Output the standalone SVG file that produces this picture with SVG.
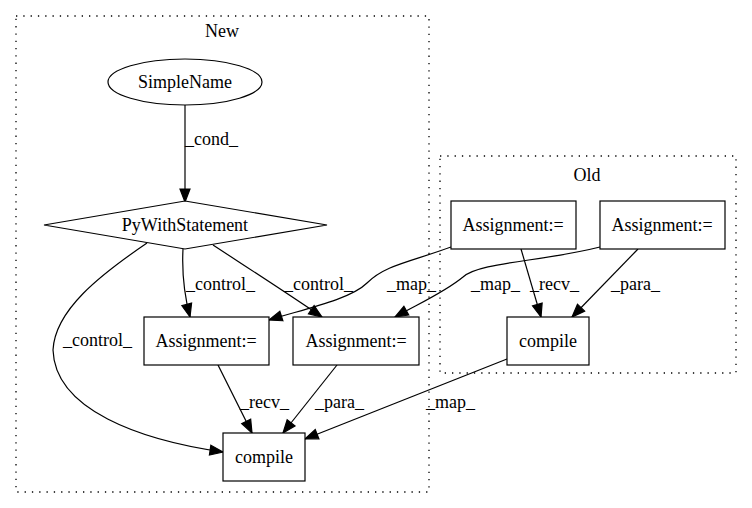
<svg xmlns="http://www.w3.org/2000/svg" width="752" height="508" viewBox="0 0 752 508">
<defs>
<marker id="ah" markerWidth="14" markerHeight="11" refX="13" refY="5" orient="auto" markerUnits="userSpaceOnUse" overflow="visible">
<path d="M0,0 L13,5 L0,10 z" fill="#000" stroke="#000" stroke-width="1.2"/>
</marker>
<style>
.t { font-family: "Liberation Serif", "Times New Roman", "DejaVu Serif", serif; font-size: 18px; fill: #000; }
.c { text-anchor: middle; }
.cl { fill: none; stroke: #000; stroke-width: 1.3; stroke-dasharray: 1.3 6; }
.n { fill: #fff; stroke: #000; stroke-width: 1.2; }
.e { fill: none; stroke: #000; stroke-width: 1.2; marker-end: url(#ah); }
</style>
</defs>
<rect width="752" height="508" fill="#fff"/>
<g class="t" font-family="Liberation Serif, Times New Roman, serif" font-size="18">
<g id="cluster_new">
<rect class="cl" x="16" y="16" width="413" height="476"/>
<text class="c" x="222" y="37">New</text>
</g>
<g id="cluster_old">
<rect class="cl" x="440" y="156" width="296" height="217"/>
<text class="c" x="587" y="181">Old</text>
</g>
<g id="edges">
<path class="e" d="M185,105 L185,202"/>
<text x="185" y="145">_cond_</text>
<path class="e" d="M183,249 C182,268 183,290 190,317"/>
<text x="186" y="290">_control_</text>
<path class="e" d="M213,245 C245,266 290,295 322,317"/>
<text x="284" y="290">_control_</text>
<path class="e" d="M147,243 C100,275 55,310 53,350 C55,410 140,440 223,452"/>
<text x="63" y="346">_control_</text>
<path class="e" d="M218,365 L252,433"/>
<text x="240" y="408">_recv_</text>
<path class="e" d="M337,365 L283,433"/>
<text x="315" y="408">_para_</text>
<path class="e" d="M507,359 L305,439"/>
<text x="426" y="408">_map_</text>
<path class="e" d="M451,247 C410,262 385,265 367,283 C350,300 300,310 269,320"/>
<text x="387" y="290">_map_</text>
<path class="e" d="M600,247 C540,262 480,262 463,277 C445,292 420,303 395,317"/>
<text x="471" y="290">_map_</text>
<path class="e" d="M521,249 L541,317"/>
<text x="530" y="290">_recv_</text>
<path class="e" d="M638,249 L572,317"/>
<text x="611" y="290">_para_</text>
</g>
<g id="SimpleName">
<ellipse class="n" cx="185" cy="82" rx="77" ry="23"/>
<text class="c" x="185" y="88">SimpleName</text>
</g>
<g id="PyWithStatement">
<polygon class="n" points="185,201 327,225 185,249 44,225"/>
<text class="c" x="185" y="231">PyWithStatement</text>
</g>
<g id="new_assign1">
<rect class="n" x="144" y="317" width="125" height="48"/>
<text class="c" x="206" y="347">Assignment:=</text>
</g>
<g id="new_assign2">
<rect class="n" x="293" y="317" width="126" height="48"/>
<text class="c" x="356" y="347">Assignment:=</text>
</g>
<g id="new_compile">
<rect class="n" x="223" y="433" width="82" height="48"/>
<text class="c" x="264" y="463">compile</text>
</g>
<g id="old_assign1">
<rect class="n" x="451" y="201" width="125" height="48"/>
<text class="c" x="513" y="231">Assignment:=</text>
</g>
<g id="old_assign2">
<rect class="n" x="600" y="201" width="125" height="48"/>
<text class="c" x="662" y="231">Assignment:=</text>
</g>
<g id="old_compile">
<rect class="n" x="507" y="317" width="82" height="48"/>
<text class="c" x="548" y="347">compile</text>
</g>
</g>
</svg>
